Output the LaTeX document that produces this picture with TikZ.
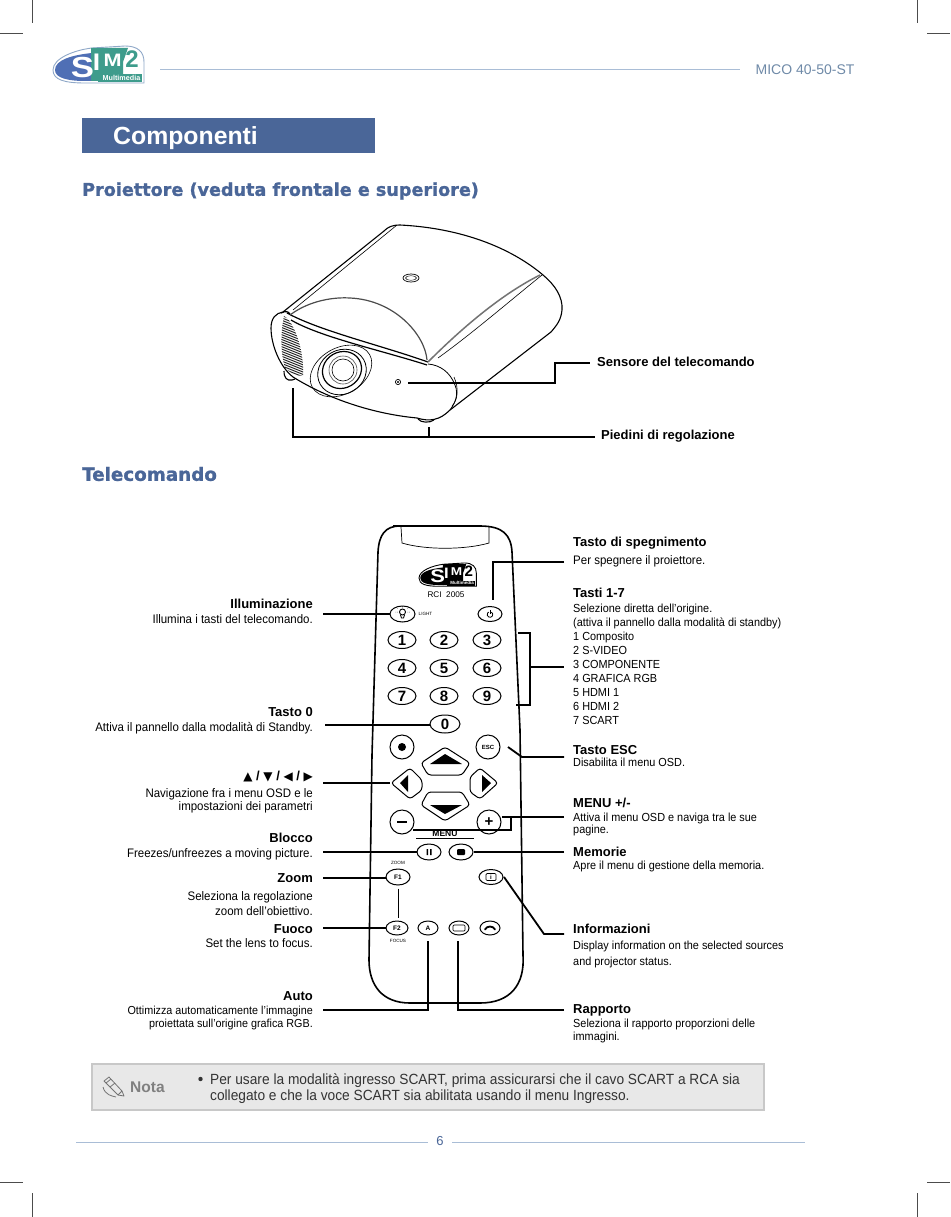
\documentclass[tikz,border=0pt]{standalone}
\usepackage{fontspec}
\usetikzlibrary{shapes.geometric,calc}
\setmainfont{Liberation Sans}
\newfontfamily\bodyf[FakeStretch=0.93]{Liberation Sans}
\newfontfamily\headf[FakeBold=1.2]{DejaVu Sans}
\newfontfamily\symf{DejaVu Sans}
\definecolor{titleblue}{HTML}{4A6698}
\definecolor{ruleblue}{HTML}{A9BDD6}
\definecolor{micocol}{HTML}{6F8AA8}
\definecolor{logoblue}{HTML}{4F6FB5}
\definecolor{logoteal}{HTML}{3E9C8C}
\definecolor{logoedge}{HTML}{8FA8C8}
\definecolor{notefill}{HTML}{E8E8E8}
\definecolor{noteedge}{HTML}{C8C8C8}
\tikzset{
 crop/.style={line width=0.6pt,black!70},
 rulel/.style={line width=1pt,ruleblue},
 lead/.style={line width=1.8pt,black,line join=miter},
 btn/.style 2 args={ellipse,draw,line width=1pt,fill=white,minimum width=#1pt,minimum height=#2pt,inner sep=0pt,font=\bfseries\fontsize{15}{15}\selectfont},
 hexb/.style={draw,line width=1pt,fill=white,rounded corners=3pt},
 ttl/.style={inner sep=0pt,yshift=-1pt,font=\bfseries\fontsize{13}{15}\selectfont},
 lhead/.style={ttl,anchor=east},
 rhead/.style={ttl,anchor=west},
 ltxt/.style={inner sep=0pt,yshift=-1.5pt,anchor=north east,align=right,font=\bodyf\fontsize{11.6}{#1}\selectfont},
 ltxt/.default=14,
 ltxtb/.style={inner sep=0pt,yshift=-1.5pt,anchor=north east,align=right,font=\bodyf\fontsize{12.35}{#1}\selectfont},
 ltxtb/.default=14,
 rtxt/.style={inner sep=0pt,yshift=-1.7pt,anchor=north west,align=left,font=\bodyf\fontsize{11.7}{#1}\selectfont},
 rtxt/.default=14,
 rtxtb/.style={inner sep=0pt,yshift=-1.7pt,anchor=north west,align=left,font=\bodyf\fontsize{12.35}{#1}\selectfont},
 rtxtb/.default=14,
 smalll/.style={inner sep=0pt,font=\fontsize{4.6}{5}\selectfont},
 sect/.style={inner sep=0pt,yshift=-1pt,anchor=west,text=titleblue,font=\headf\bfseries\fontsize{#1}{20}\selectfont},
 prj/.style={line width=0.8pt,black},
}
\newcommand{\simlogo}[8]{%
 \begin{scope}[shift={(#1,#2)},scale=#3,transform shape]
  \draw[#4,line width=0.9pt,fill=white] (53,70) .. controls (53,58) and (75,50) .. (92,48) -- (125,46) .. controls (138,46) and (144,52) .. (144,62) -- (144,83) -- (85,83) .. controls (65,83) and (53,80) .. (53,70) -- cycle;
  \fill[#5] (55,70) .. controls (55,60) and (72,55) .. (92,53) -- (92,81) -- (85,81) .. controls (68,81) and (55,78) .. (55,70) -- cycle;
  \fill[#6] (91,48) -- (128,48) -- (123,62) -- (123,81) -- (91,81) -- cycle;
  \fill[#6] (98,74) rectangle (142,82);
  \node (#8s) at (82.5,67.5) [inner sep=0pt,xscale=1.2,text=white,font=\bfseries\fontsize{29}{29}\selectfont] {S};
  \node (#8i) at (96.5,62.5) [inner sep=0pt,xscale=1.1,text=white,font=\bfseries\fontsize{24}{24}\selectfont] {I};
  \node (#8m) at (112.5,60) [inner sep=0pt,xscale=1.2,text=#7,font=\bfseries\fontsize{18}{18}\selectfont] {M};
  \node (#8d) at (132,59.5) [inner sep=0pt,text=#6,font=\bfseries\fontsize{24}{24}\selectfont] {2};
  \node (#8t) at (121.5,78.3) [inner sep=0pt,text=white,font=\bfseries\fontsize{7.2}{8}\selectfont] {Multimedia};
 \end{scope}}
\begin{document}
\begin{tikzpicture}[x=1pt,y=-1pt]
\useasboundingbox (0,0) rectangle (950,1217);
\fill[white] (0,0) rectangle (950,1217);
% crop marks
\draw[crop] (32,0)--(32,23) (0,33)--(23,33) (917,0)--(917,23) (927,33)--(950,33)
 (32,1193)--(32,1217) (0,1182)--(23,1182) (917,1193)--(917,1217) (927,1182)--(950,1182);
% header
\simlogo{0}{0}{1}{logoedge}{logoblue}{logoteal}{white}{la}
\draw[rulel] (160,70)--(740,70);
\node (mico) at (805,69.5) [inner sep=0pt,text=micocol,font=\fontsize{14}{16}\selectfont] {MICO 40-50-ST};
\node (titlebox) at (228.5,135.5) [fill=titleblue,minimum width=293pt,minimum height=35pt,inner sep=0pt] {};
\node (titletxt) at (113,138) [anchor=west,inner sep=0pt,text=white,font=\bfseries\fontsize{24.8}{26}\selectfont] {Componenti};
\node (sec1) at (82,190) [sect=17.6] {Proiettore (veduta frontale e superiore)};
\node (sec2) at (82,473) [sect=18.3] {Telecomando};
% projector
\draw[prj,line width=1.1pt,fill=white] (271,328) .. controls (271,318) and (276,313) .. (283,312) -- (384,231) .. controls (388,227) and (392,225) .. (400,225) .. controls (460,228) and (510,247) .. (543,275) .. controls (555,285) and (563,297) .. (562,310) .. controls (561,320) and (557,325) .. (551,332) -- (450,410) .. controls (440,420) and (430,422) .. (417,418) .. controls (375,414) and (330,400) .. (293,377) .. controls (280,367) and (271,345) .. (271,328) -- cycle;
\draw[prj,line width=1.1pt] (284,371) .. controls (284,378) and (287,381) .. (292,380) -- (295,379);
\draw[prj,line width=1.1pt] (418,419) .. controls (421,423) and (430,423) .. (434,420);
\draw[prj,line width=0.6pt] (293,310) -- (397,225);
\draw[prj,line width=1.2pt] (281,313) .. controls (285,311) and (288,311) .. (290,314);
\draw[prj,line width=1.2pt] (287,313) .. controls (320,331) and (380,345) .. (428,362);
\draw[prj,line width=1.2pt] (291,320) .. controls (320,337) and (380,350) .. (427,365);
\draw[prj,line width=1.2pt,black!70] (290,315) .. controls (310,300) and (335,297) .. (350,298) .. controls (395,300) and (425,335) .. (427,360);
\draw[black!55,line width=1.5pt] (428,362) .. controls (460,330) and (500,295) .. (540,275);
\draw[prj,line width=0.6pt] (438,358) .. controls (470,335) and (505,305) .. (542,275);
\draw[prj] (428,364) .. controls (440,365) and (450,372) .. (455,385) .. controls (459,395) and (455,403) .. (450,410);
\draw[prj,line width=0.6pt] (454,377) .. controls (459,388) and (458,400) .. (452,406);
\begin{scope}
 \clip (284,316) .. controls (280,335) and (281,355) .. (285,368) .. controls (290,373) and (297,376) .. (303,376) .. controls (304,360) and (300,335) .. (288,319) -- cycle;
 \foreach \k in {0,2.4,...,72}{\draw[black!85,line width=1pt] (275,{308+\k}) -- (310,{322+\k});}
\end{scope}
\draw[prj,line width=0.6pt,rotate around={30:(341,371)}] (341,371) ellipse (33 and 23);
\draw[prj,line width=0.8pt,rotate around={30:(342,372)}] (342,372) ellipse (25 and 22);
\draw[prj,line width=1.2pt,rotate around={30:(342,370)}] (342,370) ellipse (20 and 18);
\draw[prj,black!70,line width=0.6pt] (343,370) circle (14);
\draw[prj,line width=0.6pt] (343,370) circle (11);
\draw[prj,line width=0.7pt] (411,278) ellipse (8 and 4);
\draw[prj,line width=0.4pt] (411,278) ellipse (5.5 and 2.3);
\draw[prj,line width=0.7pt] (398,382) circle (2.6);
\fill (398,382) circle (1.2);
% projector labels
\coordinate (sensor) at (408,383);
\node (sens) at (597,361) [rhead] {Sensore del telecomando};
\node (pied) at (601,435) [rhead] {Piedini di regolazione};
\coordinate (sensE) at (590,363);
\coordinate (piedE) at (595,437);
\coordinate (footL) at (293,388);
\coordinate (footB) at (429,427);
\draw[lead,line width=2pt] (sensor) -- (555,383) -- (555,363) -- (sensE);
\draw[lead,line width=2pt] (footL) -- (293,437) -- (piedE);
\draw[lead,line width=2pt] (footB) -- (429,437);
% remote body
\draw[line width=1.6pt,fill=white] (393,526) -- (480,526) .. controls (503,526) and (511,535) .. (512,552) -- (520,730) -- (523,955) .. controls (525,985) and (510,1003) .. (480,1003) -- (410,1003) .. controls (382,1003) and (369,985) .. (369,960) -- (372,755) -- (378,552) .. controls (379,535) and (385,526) .. (400,526) -- cycle;
\draw[line width=0.7pt] (401,527) -- (402,543) .. controls (425,550) and (465,550) .. (489,543) -- (489,527);
\simlogo{385.6}{534}{0.63}{black}{black}{black}{white}{lb}
\node (rci) at (446,595) [inner sep=0pt,font=\fontsize{8.2}{9}\selectfont] {RCI~~2005};
% buttons
\node (blight) at (402.5,614) [btn={25}{16}] {};
\draw[line width=0.9pt] (402.5,612) circle (3);
\draw[line width=0.9pt] (400.5,615) -- (401.5,618) -- (403.5,618) -- (404.5,615);
\draw[line width=0.5pt,densely dotted] (395.5,612) -- (397.5,612) (407.5,612) -- (409.5,612) (402.5,606) -- (402.5,608) (397.5,608)--(398.5,609) (407.5,608)--(406.5,609);
\node (tlight) at (425.5,614) [smalll] {LIGHT};
\node (bpow) at (490,614) [btn={24}{15}] {};
\draw[line width=0.8pt] (491.4,612.1) arc[start angle=-60,end angle=240,radius=2.8];
\draw[line width=0.8pt] (490,610) -- (490,614);
\foreach \n/\x/\y in {1/402/640,2/444/640,3/487/640,4/402/668,5/444/668,6/487/668,7/402/696,8/444/696,9/487/696}{
 \node (b\n) at (\x,\y) [btn={28}{17}] {\n};
}
\node (b0) at (445,724) [btn={30}{18}] {0};
\node (brec) at (402,747) [btn={24}{24}] {};
\fill (402,747) circle (4);
\node (besc) at (488,747) [btn={24}{24},font=\bfseries\fontsize{6}{7}\selectfont] {ESC};
% direction buttons
\draw[hexb] (445,747) -- (470,763) -- (462,775) -- (428,775) -- (421,763) -- cycle;
\fill (445,754) -- (462,764) -- (430,764) -- cycle;
\draw[hexb] (391,783) -- (410,768) -- (422,780) -- (422,790) -- (410,799) -- cycle;
\fill (400,783) -- (408,775) -- (408,792) -- cycle;
\draw[hexb] (498,783) -- (480,768) -- (470,777) -- (470,792) -- (480,799) -- cycle;
\fill (491,783) -- (482,775) -- (482,792) -- cycle;
\draw[hexb] (445,821) -- (470,805) -- (462,792) -- (428,792) -- (421,805) -- cycle;
\fill (445,814) -- (462,805) -- (430,805) -- cycle;
\coordinate (bleft) at (390,783);
\node (bmin) at (402,822) [btn={24}{24}] {};
\fill (397,820.7) rectangle (407,823.3);
\node (bplus) at (489,822) [btn={24}{24}] {+};
\node (tmenu) at (445,833.5) [inner sep=0pt,font=\bfseries\fontsize{8.5}{9}\selectfont] {MENU};
\draw[line width=0.6pt] (416,838) -- (474,838);
\node (bpause) at (429,852) [btn={24}{16}] {};
\fill (426.5,849) rectangle (428,855) (430,849) rectangle (431.5,855);
\node (bstop) at (461,852) [btn={24}{16}] {};
\fill[rounded corners=1pt] (457,849) rectangle (465,855);
\node (tzoom) at (398,863) [smalll] {ZOOM};
\node (bf1) at (398,877) [btn={24}{16},font=\bfseries\fontsize{6.5}{7}\selectfont] {F1};
\node (binfo) at (491,877) [btn={24}{15}] {};
\draw[line width=0.7pt,rounded corners=1pt] (486,873.5) rectangle (496,880.5);
\node (tinfoi) at (491,877) [inner sep=0pt,font=\bfseries\fontsize{6}{7}\selectfont] {i};
\node (bf2) at (397,928) [btn={22}{14},font=\bfseries\fontsize{6.5}{7}\selectfont] {F2};
\node (tfocus) at (398,941) [smalll] {FOCUS};
\draw[line width=0.7pt] ($(bf1.south)+(0,3)$) -- ($(bf2.north)+(1,-3)$);
\node (ba) at (428,928) [btn={20}{14},font=\bfseries\fontsize{6.5}{7}\selectfont] {A};
\node (bras) at (459,928) [btn={20}{14}] {};
\draw[line width=0.7pt,rounded corners=1pt] (453,925) rectangle (465,931);
\node (bhang) at (490,928) [btn={20}{14}] {};
\draw[line width=1.8pt,line cap=round] (485,929.5) .. controls (487,925.5) and (493,925.5) .. (495,929.5);
% text left
\node (l1) at (313,603) [lhead] {Illuminazione};
\node (l1b) at (313,612.5) [ltxtb] {Illumina i tasti del telecomando.};
\node (l2) at (313,711) [lhead] {Tasto 0};
\node (l2b) at (313,720.5) [ltxtb] {Attiva il pannello dalla modalità di Standby.};
\node (l3) at (313,776) [lhead] {{\symf\fontsize{12}{13}\selectfont ▲} / {\symf\fontsize{12}{13}\selectfont ▼} / {\symf\fontsize{12}{13}\selectfont ◀} / {\symf\fontsize{12}{13}\selectfont ▶}};
\node (l3b) at (313,787) [ltxtb=13] {Navigazione fra i menu OSD e le\\impostazioni dei parametri};
\node (l4) at (313,837) [lhead] {Blocco};
\node (l4b) at (313,846.5) [ltxtb] {Freezes/unfreezes a moving picture.};
\node (l5) at (313,877) [lhead] {Zoom};
\node (l5b) at (313,889.5) [ltxtb=15] {Seleziona la regolazione\\zoom dell’obiettivo.};
\node (l6) at (313,928) [lhead] {Fuoco};
\node (l6b) at (313,936.5) [ltxtb] {Set the lens to focus.};
\node (l7) at (313,995) [lhead] {Auto};
\node (l7b) at (313,1004) [ltxt=13] {Ottimizza automaticamente l’immagine\\proiettata sull’origine grafica RGB.};
% text right
\node (r1) at (573,542) [rhead] {Tasto di spegnimento};
\node (r1b) at (573,553.5) [rtxtb] {Per spegnere il proiettore.};
\node (r2) at (573,592) [rhead] {Tasti 1-7};
\node (r2b) at (573,602.5) [rtxt] {Selezione diretta dell’origine.\\(attiva il pannello dalla modalità di standby)\\1 Composito\\2 S-VIDEO\\3 COMPONENTE\\4 GRAFICA RGB\\5 HDMI 1\\6 HDMI 2\\7 SCART};
\node (r3) at (573,749) [rhead] {Tasto ESC};
\node (r3b) at (573,756.5) [rtxt] {Disabilita il menu OSD.};
\node (r4) at (573,802) [rhead] {MENU +/-};
\node (r4b) at (573,811) [rtxt=12.5] {Attiva il menu OSD e naviga tra le sue\\pagine.};
\node (r5) at (573,851) [rhead] {Memorie};
\node (r5b) at (573,859.5) [rtxt] {Apre il menu di gestione della memoria.};
\node (r6) at (573,928) [rhead] {Informazioni};
\node (r6b) at (573,939.5) [rtxt=15.5] {Display information on the selected sources\\and projector status.};
\node (r7) at (573,1009) [rhead] {Rapporto};
\node (r7b) at (573,1017) [rtxt=13] {Seleziona il rapporto proporzioni delle\\immagini.};
% leaders
\coordinate (cl1) at (323,614); \coordinate (cl2) at (325,725); \coordinate (cl3) at (323,783);
\coordinate (cl4) at (323,852); \coordinate (cl5) at (323,878); \coordinate (cl6) at (323,928);
\coordinate (cl7) at (323,1010); \coordinate (cr1) at (564,562); \coordinate (cr2) at (564,667);
\coordinate (cr3) at (564,757); \coordinate (cr4) at (564,817); \coordinate (cr5) at (564,852);
\coordinate (cr6) at (564,934); \coordinate (cr7) at (564,1010);
\draw[lead] (cl1) -- (blight.west);
\draw[lead] (cl2) -- (cl2 -| b0.west);
\draw[lead] (cl3) -- (bleft);
\draw[lead] (cl4) -- (bpause.west);
\draw[lead] (cl5) -- (cl5 -| bf1.west);
\draw[lead] (cl6) -- (bf2.west);
\draw[lead] (cl7) -- (428,1010) -- ($(ba.south)+(0,5)$);
\draw[lead] (cr7) -- (458,1010) -- ($(bras.south)+(-1,5)$);
\draw[lead] (cr1) -- (493,562) -- (493,600);
\draw[lead,line width=1.4pt] (518,633) -- (530,633) -- (530,705) -- (516,705);
\draw[lead,line width=1.4pt] (530,667) -- (cr2);
\draw[lead] (508,747) -- (522,757) -- (cr3);
\draw[lead] (cr4) -- (cr4 -| bplus.east);
\draw[lead] (511,817) -- (511,830) -- (413,830);
\draw[lead] (cr5) -- (bstop.east);
\draw[lead] (cr6) -- (544,934) -- (504,877);
% note
\node (notebox) at (428,1087) [draw=noteedge,line width=1.6pt,fill=notefill,minimum width=672pt,minimum height=46pt,inner sep=0pt] {};
\begin{scope}[black!55,line width=0.8pt,line join=round]
 \draw (104,1081) -- (109,1077) -- (122,1091) -- (124,1096) -- (118,1095) -- cycle;
 \draw (106,1083) -- (111,1079) (110,1087) -- (115,1083) (118,1095) -- (122,1091);
 \draw (103,1087) .. controls (105,1095) and (112,1096) .. (116,1097);
\end{scope}
\node (nota) at (130,1087) [anchor=west,inner sep=0pt,text=black!50,font=\bfseries\fontsize{15.5}{17}\selectfont] {Nota};
\fill[black!80] (200.5,1079) circle (2.2);
\node (notet) at (210,1073.5) [anchor=north west,inner sep=0pt,align=left,text=black!80,font=\bodyf\fontsize{14.76}{16}\selectfont] {Per usare la modalità ingresso SCART, prima assicurarsi che il cavo SCART a RCA sia\\collegato e che la voce SCART sia abilitata usando il menu Ingresso.};
% footer
\draw[rulel] (76,1142)--(428,1142) (452,1142)--(805,1142);
\node (pagen) at (440,1141) [inner sep=0pt,text=titleblue,font=\fontsize{13}{15}\selectfont] {6};
\end{tikzpicture}
\end{document}
